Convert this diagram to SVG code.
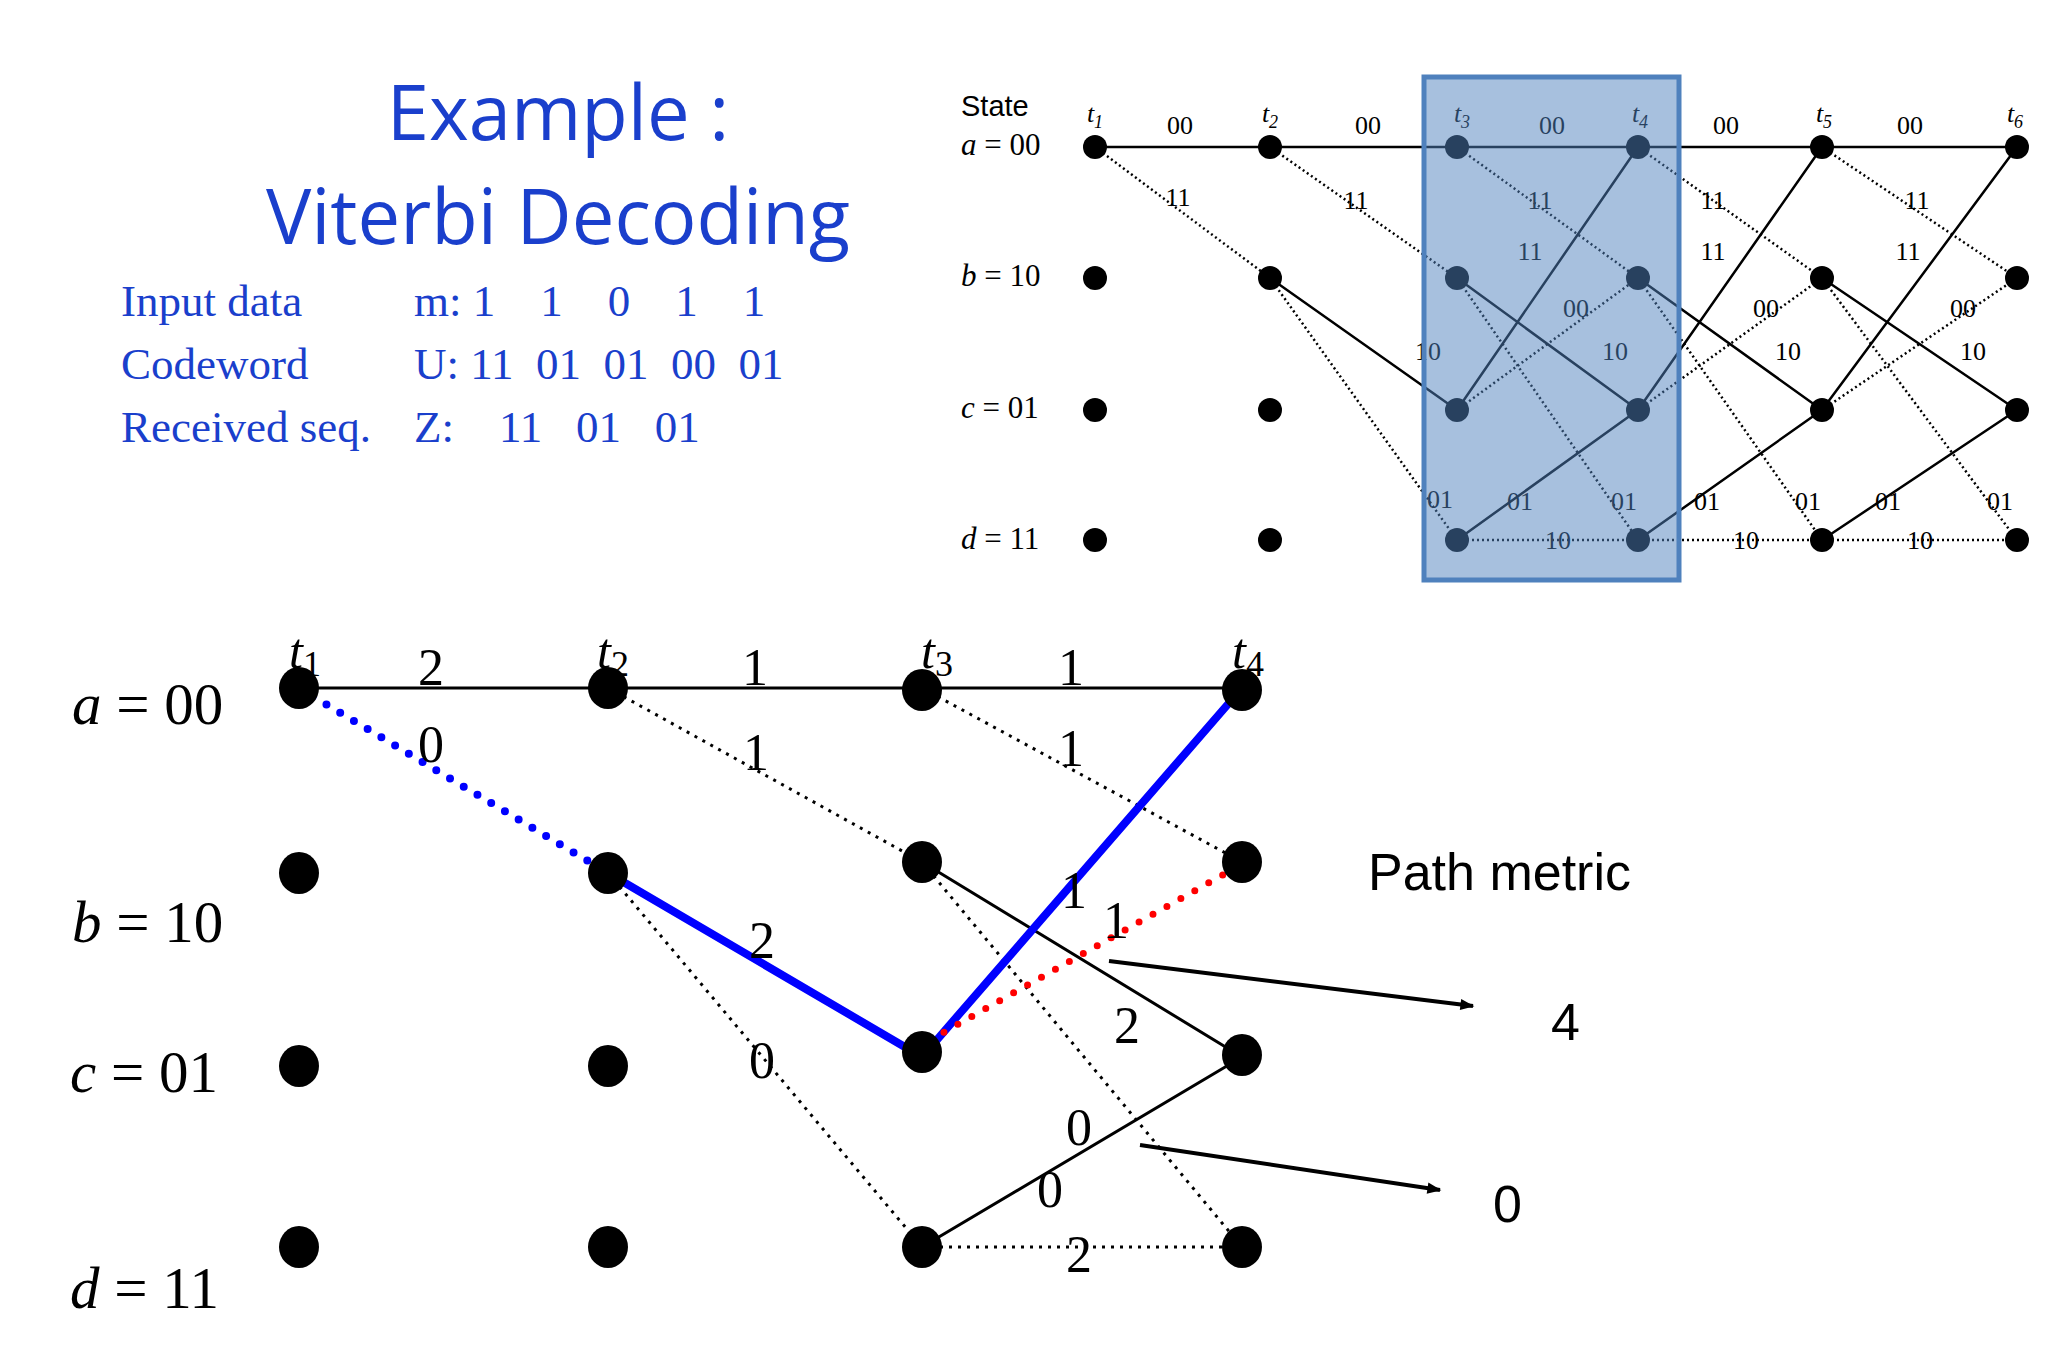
<svg xmlns="http://www.w3.org/2000/svg" width="2048" height="1365" viewBox="0 0 2048 1365">
<defs>
<marker id="ah" viewBox="0 0 10 10" refX="9" refY="5" markerWidth="6" markerHeight="6" markerUnits="userSpaceOnUse" orient="auto"><path d="M0,0 L10,5 L0,10 z" fill="#000"/></marker>
<marker id="ah2" viewBox="0 0 10 10" refX="9" refY="5" markerWidth="18" markerHeight="14" orient="auto" markerUnits="userSpaceOnUse"><path d="M0,1 L10,5 L0,9 z" fill="#000"/></marker>
</defs>
<style>
.ttl{font-family:"Open Sans","Liberation Sans",sans-serif;fill:#1a3fcc;font-size:76px;text-anchor:middle}
.inp{font-family:"Liberation Serif",serif;fill:#1a3fcc;font-size:45px}
.st{font-family:"Liberation Serif",serif;font-size:59px}
.st i,.it{font-style:italic}
.lb{font-family:"Liberation Serif",serif;font-size:52px;text-anchor:middle}
.tl{font-family:"Liberation Serif",serif;font-size:50px;font-style:italic}
.sm{font-family:"Liberation Serif",serif;font-size:26px;text-anchor:middle}
.sl{font-family:"Liberation Serif",serif;font-size:31px}
.s{stroke:#000;stroke-width:3;fill:none}
.d{stroke:#000;stroke-width:3;stroke-dasharray:3 6;fill:none}
.s2{stroke:#000;stroke-width:2.5;fill:none}
.d2{stroke:#000;stroke-width:2.5;stroke-dasharray:2 3;fill:none}
.bs{stroke:#0000ff;stroke-width:8;fill:none}
.bd{stroke:#0000ff;stroke-width:8;stroke-linecap:round;stroke-dasharray:0 16;fill:none}
.rd{stroke:#ff0000;stroke-width:7;stroke-linecap:round;stroke-dasharray:0 16;fill:none}
.sans{font-family:"Liberation Sans",Arial,sans-serif;font-size:52px}
</style>
<g id="title">
<text class="ttl" x="558" y="140">Example :</text>
<text class="ttl" x="558" y="244">Viterbi Decoding</text>
</g>
<g id="inputs" class="inp">
<text x="121" y="316">Input data</text><text x="414" y="316" xml:space="preserve">m: 1    1    0    1    1</text>
<text x="121" y="379">Codeword</text><text x="414" y="379" xml:space="preserve">U: 11  01  01  00  01</text>
<text x="121" y="442">Received seq.</text><text x="414" y="442" xml:space="preserve">Z:    11   01   01</text>
</g>
<g id="top-trellis">
<g id="top-connectors">
<path class="s2" d="M1095,147 H2017"/>
<path class="d2" d="M1095,147 L1270,278 M1270,147 L1457,278 M1457,147 L1638,278 M1638,147 L1822,278 M1822,147 L2017,278"/>
<path class="s2" d="M1270,278 L1457,410 M1457,278 L1638,410 M1638,278 L1822,410 M1822,278 L2017,410"/>
<path class="d2" d="M1270,278 L1457,540 M1457,278 L1638,540 M1638,278 L1822,540 M1822,278 L2017,540"/>
<path class="s2" d="M1457,410 L1638,147 M1638,410 L1822,147 M1822,410 L2017,147"/>
<path class="d2" d="M1457,410 L1638,278 M1638,410 L1822,278 M1822,410 L2017,278"/>
<path class="s2" d="M1457,540 L1638,410 M1638,540 L1822,410 M1822,540 L2017,410"/>
<path class="d2" d="M1457,540 H2017"/>
</g>
<g id="top-nodes" fill="#000">
<circle cx="1095" cy="147" r="12"/><circle cx="1270" cy="147" r="12"/><circle cx="1457" cy="147" r="12"/><circle cx="1638" cy="147" r="12"/><circle cx="1822" cy="147" r="12"/><circle cx="2017" cy="147" r="12"/>
<circle cx="1095" cy="278" r="12"/><circle cx="1270" cy="278" r="12"/><circle cx="1457" cy="278" r="12"/><circle cx="1638" cy="278" r="12"/><circle cx="1822" cy="278" r="12"/><circle cx="2017" cy="278" r="12"/>
<circle cx="1095" cy="410" r="12"/><circle cx="1270" cy="410" r="12"/><circle cx="1457" cy="410" r="12"/><circle cx="1638" cy="410" r="12"/><circle cx="1822" cy="410" r="12"/><circle cx="2017" cy="410" r="12"/>
<circle cx="1095" cy="540" r="12"/><circle cx="1270" cy="540" r="12"/><circle cx="1457" cy="540" r="12"/><circle cx="1638" cy="540" r="12"/><circle cx="1822" cy="540" r="12"/><circle cx="2017" cy="540" r="12"/>
</g>
<g id="top-labels">
<text x="961" y="116" font-family="Liberation Sans,sans-serif" font-size="29">State</text>
<text class="sl" x="961" y="155"><tspan class="it">a</tspan> = 00</text>
<text class="sl" x="961" y="286"><tspan class="it">b</tspan> = 10</text>
<text class="sl" x="961" y="418"><tspan class="it">c</tspan> = 01</text>
<text class="sl" x="961" y="549"><tspan class="it">d</tspan> = 11</text>
<g class="sm" font-style="italic">
<text x="1095" y="122">t<tspan font-size="18" dy="6">1</tspan></text>
<text x="1270" y="122">t<tspan font-size="18" dy="6">2</tspan></text>
<text x="1462" y="122">t<tspan font-size="18" dy="6">3</tspan></text>
<text x="1640" y="122">t<tspan font-size="18" dy="6">4</tspan></text>
<text x="1824" y="122">t<tspan font-size="18" dy="6">5</tspan></text>
<text x="2015" y="122">t<tspan font-size="18" dy="6">6</tspan></text>
</g>
<g class="sm">
<text x="1180" y="134">00</text><text x="1368" y="134">00</text><text x="1552" y="134">00</text><text x="1726" y="134">00</text><text x="1910" y="134">00</text>
<text x="1178" y="206">11</text><text x="1356" y="209">11</text><text x="1540" y="209">11</text><text x="1713" y="209">11</text><text x="1917" y="209">11</text>
<text x="1530" y="260">11</text><text x="1713" y="260">11</text><text x="1908" y="260">11</text>
<text x="1576" y="317">00</text><text x="1766" y="317">00</text><text x="1963" y="317">00</text>
<text x="1428" y="360">10</text><text x="1615" y="360">10</text><text x="1788" y="360">10</text><text x="1973" y="360">10</text>
<text x="1440" y="508">01</text><text x="1624" y="510">01</text><text x="1808" y="510">01</text><text x="2000" y="510">01</text>
<text x="1520" y="510">01</text><text x="1707" y="510">01</text><text x="1888" y="510">01</text>
<text x="1558" y="549">10</text><text x="1746" y="549">10</text><text x="1920" y="549">10</text>
</g>
</g>
<rect id="highlight-box" x="1424" y="77" width="255" height="503" fill="#4f81bd" fill-opacity="0.5" stroke="#4f81bd" stroke-width="5"/>
</g>
<g id="connectors">
<path class="s" d="M299,688 H1242"/>
<path class="d" d="M608,688 L922,862 M922,688 L1242,862"/>
<path class="d" d="M608,873 L922,1247 M922,862 L1242,1247 M922,1247 H1242"/>
<path class="s" d="M922,862 L1242,1057 M922,1247 L1242,1057"/>
<path class="bd" d="M299,688 L608,873"/>
<path class="bs" d="M608,873 L922,1057 L1242,688"/>
<path class="rd" d="M930,1040 L1235,868"/>
<path d="M1109,961 L1473,1006" stroke="#000" stroke-width="4" marker-end="url(#ah2)"/>
<path d="M1140,1145 L1440,1190" stroke="#000" stroke-width="4" marker-end="url(#ah2)"/>
</g>
<g id="nodes" fill="#000">
<ellipse cx="299" cy="688" rx="20" ry="21"/><ellipse cx="608" cy="688" rx="20" ry="21"/><ellipse cx="922" cy="690" rx="20" ry="21"/><ellipse cx="1242" cy="690" rx="20" ry="21"/>
<ellipse cx="299" cy="873" rx="20" ry="21"/><ellipse cx="608" cy="873" rx="20" ry="21"/><ellipse cx="922" cy="862" rx="20" ry="21"/><ellipse cx="1242" cy="862" rx="20" ry="21"/>
<ellipse cx="299" cy="1066" rx="20" ry="21"/><ellipse cx="608" cy="1066" rx="20" ry="21"/><ellipse cx="922" cy="1052" rx="20" ry="21"/><ellipse cx="1242" cy="1055" rx="20" ry="21"/>
<ellipse cx="299" cy="1247" rx="20" ry="21"/><ellipse cx="608" cy="1247" rx="20" ry="21"/><ellipse cx="922" cy="1247" rx="20" ry="21"/><ellipse cx="1242" cy="1247" rx="20" ry="21"/>
</g>
<g id="labels">
<text class="st" x="72" y="724"><tspan font-style="italic">a</tspan> = 00</text>
<text class="st" x="72" y="942"><tspan font-style="italic">b</tspan> = 10</text>
<text class="st" x="70" y="1092"><tspan font-style="italic">c</tspan> = 01</text>
<text class="st" x="70" y="1308"><tspan font-style="italic">d</tspan> = 11</text>
<text class="tl" x="289" y="668">t<tspan font-size="36" font-style="normal" dy="8">1</tspan></text>
<text class="tl" x="597" y="668">t<tspan font-size="36" font-style="normal" dy="8">2</tspan></text>
<text class="tl" x="921" y="668">t<tspan font-size="36" font-style="normal" dy="8">3</tspan></text>
<text class="tl" x="1232" y="668">t<tspan font-size="36" font-style="normal" dy="8">4</tspan></text>
<g class="lb">
<text x="431" y="685">2</text><text x="755" y="685">1</text><text x="1071" y="685">1</text>
<text x="431" y="762">0</text><text x="756" y="770">1</text><text x="1071" y="766">1</text>
<text x="762" y="958">2</text><text x="762" y="1078">0</text>
<text x="1074" y="908">1</text><text x="1116" y="938">1</text><text x="1127" y="1043">2</text>
<text x="1079" y="1145">0</text><text x="1050" y="1207">0</text><text x="1079" y="1272">2</text>
</g>
<text class="sans" x="1368" y="890">Path metric</text>
<text class="sans" x="1551" y="1040">4</text>
<text class="sans" x="1493" y="1222">0</text>
</g>
</svg>
